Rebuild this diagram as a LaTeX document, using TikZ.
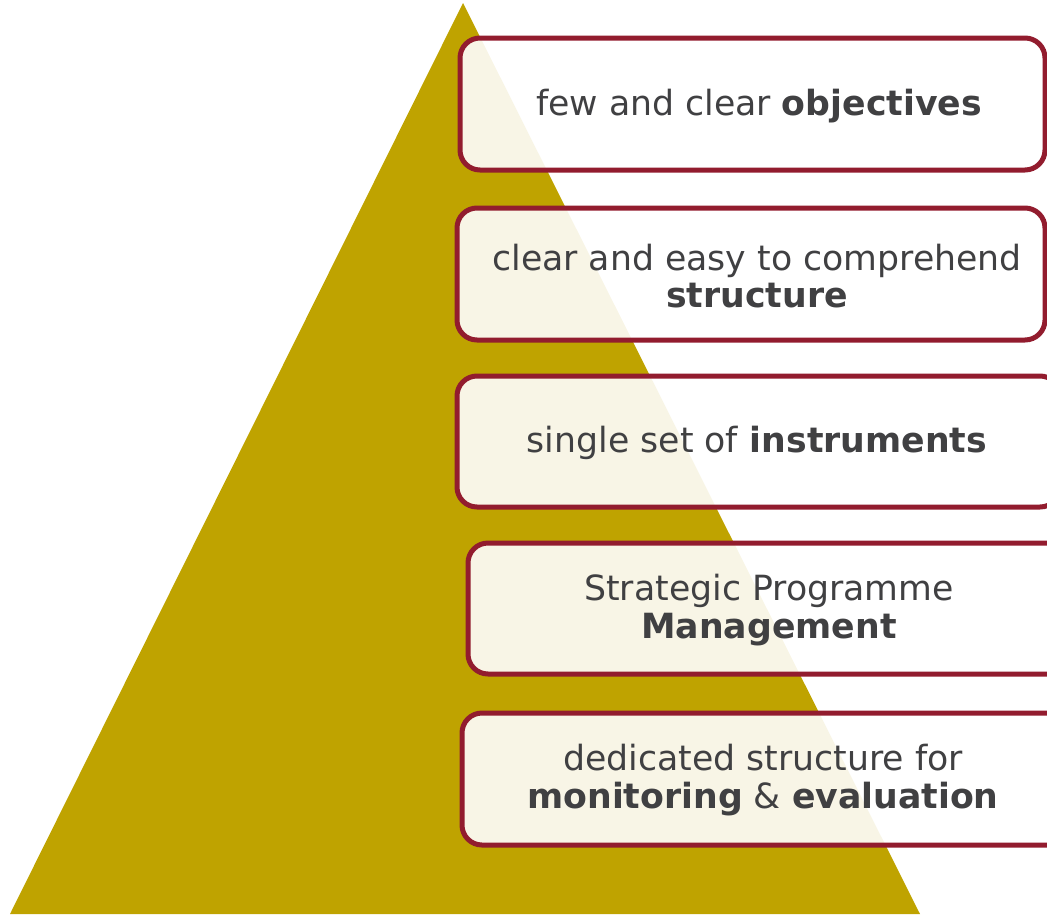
\documentclass[tikz,border=0pt]{standalone}
\usepackage{fontspec}
\setmainfont{DejaVu Sans}
\definecolor{olive}{RGB}{191,163,0}
\definecolor{boxred}{RGB}{146,28,46}
\definecolor{txt}{RGB}{64,64,66}
\begin{document}
\begin{tikzpicture}[x=1pt,y=-1pt,
  box/.style={draw=boxred,line width=5pt,rounded corners=20pt,fill=white,fill opacity=0.9,draw opacity=1},
  lbl/.style={text=txt,align=center,font=\fontsize{34.7}{37.5}\selectfont,inner sep=0pt}]
\useasboundingbox (0,0) rectangle (1047,914);
\clip (0,0) rectangle (1047,914);
\fill[olive] (463,3) coordinate (apex) -- (10,914) coordinate (bl) -- (920,914) coordinate (br) -- cycle;
\draw[box] (460,38) rectangle (1045,170);
\draw[box] (457,208) rectangle (1045,340);
\draw[box] (457,376) rectangle (1060,507);
\draw[box] (468,543) rectangle (1075,674);
\draw[box] (462,713) rectangle (1070,845);
\node[lbl] (t1) at (759,106) {few and clear \textbf{objectives}};
\node[lbl] (t2) at (757,276) {clear and easy to comprehend\\\textbf{structure}};
\node[lbl] (t3) at (757,443) {single set of \textbf{instruments}};
\node[lbl] (t4) at (769,610) {Strategic Programme\\\textbf{Management}};
\node[lbl] (t5) at (763,780) {dedicated structure for\\\textbf{monitoring} \& \textbf{evaluation}};
\end{tikzpicture}
\end{document}
